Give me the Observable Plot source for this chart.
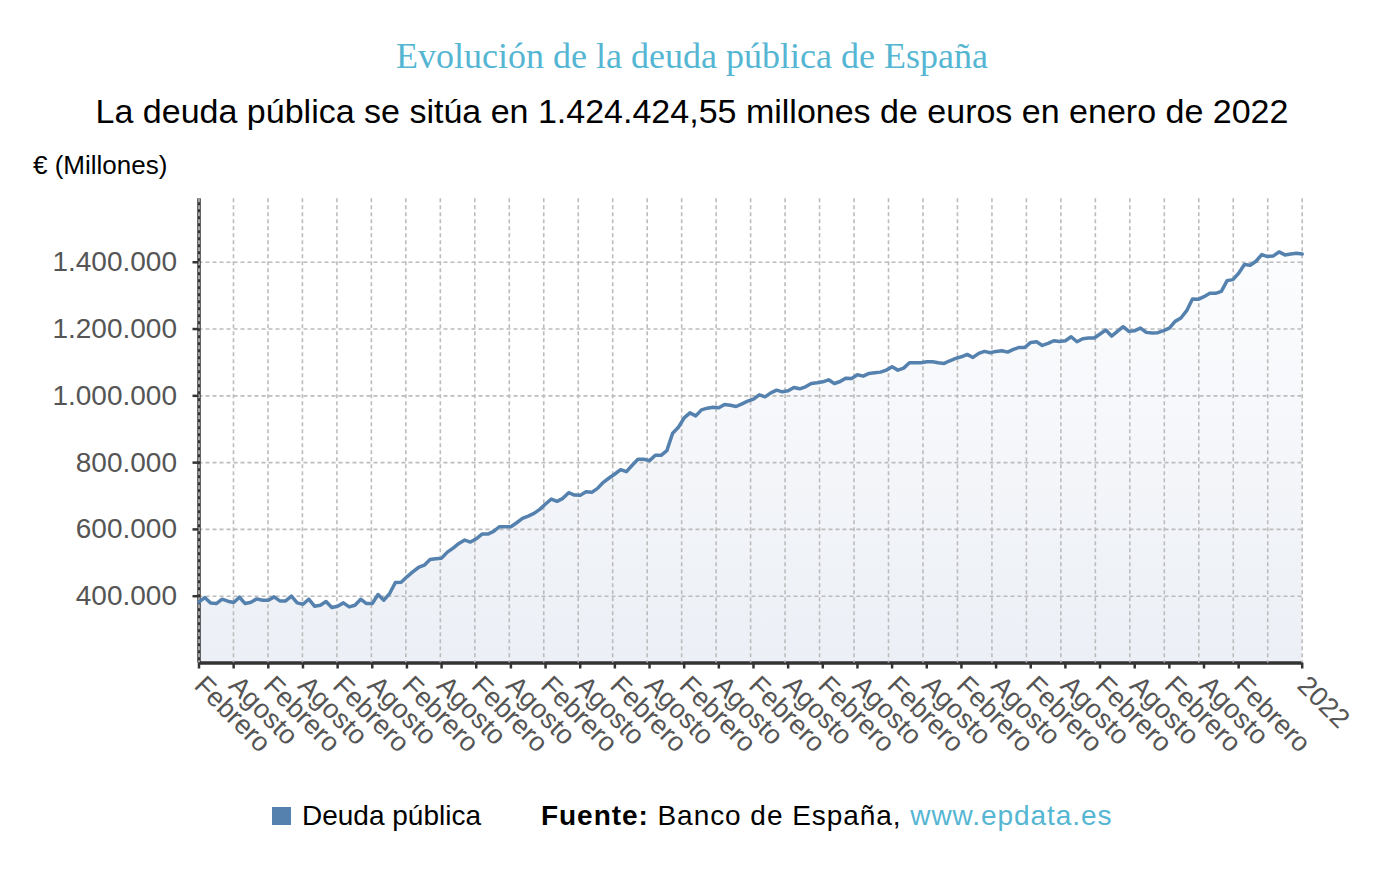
<!DOCTYPE html>
<html>
<head>
<meta charset="utf-8">
<script src="https://cdn.jsdelivr.net/npm/d3@7"></script>
<script src="https://cdn.jsdelivr.net/npm/@observablehq/plot@0.6"></script>
<style>
  body { margin: 0; background: #fff; width: 1380px; height: 890px; position: relative; overflow: hidden;
         font-family: "Liberation Sans", Arial, sans-serif; }
  .abs { position: absolute; white-space: nowrap; }
  #title { left: 0; width: 1384px; text-align: center; top: 38px; font: 36px/36px "Liberation Serif", serif; color: #55b6d3; }
  #subtitle { left: 0; width: 1384px; text-align: center; top: 94px; font-size: 34px; line-height: 34px; color: #000; }
  #ylabel { left: 33px; top: 152px; font-size: 26px; line-height: 26px; color: #000; }
  #chart { left: 0; top: 180px; }
  #legend-swatch { left: 272px; top: 807px; width: 19px; height: 18px; background: #5581ae; }
  #legend-text { left: 302px; top: 802px; font-size: 28px; line-height: 28px; color: #000; }
  #source { left: 541px; top: 802px; font-size: 28px; line-height: 28px; color: #000; letter-spacing: 0.95px; }
  #source b { font-weight: bold; }
  #source span { color: #55b6d3; }
</style>
</head>
<body>
<div id="title" class="abs">Evolución de la deuda pública de España</div>
<div id="subtitle" class="abs">La deuda pública se sitúa en 1.424.424,55 millones de euros en enero de 2022</div>
<div id="ylabel" class="abs">€ (Millones)</div>
<div id="chart" class="abs"></div>
<div id="legend-swatch" class="abs"></div>
<div id="legend-text" class="abs">Deuda pública</div>
<div id="source" class="abs"><b>Fuente:</b> Banco de España, <span>www.epdata.es</span></div>
<script>
// Monthly public debt (millions of euros), February 2006 – January 2022
const values = [
  383000, 396000, 380000, 378000, 391000, 385000, 381000, 397000, 378000, 382000, 392000, 388000,
  388000, 398000, 386000, 386000, 400000, 380000, 376000, 391000, 370000, 373000, 384000, 366000,
  370000, 380000, 368000, 373000, 391000, 378000, 378000, 405000, 388000, 408000, 441000, 442000,
  458000, 473000, 486000, 493000, 510000, 512000, 514000, 532000, 544000, 558000, 568000, 562000,
  572000, 586000, 586000, 594000, 608000, 608000, 608000, 620000, 633000, 640000, 648000, 660000,
  676000, 691000, 684000, 693000, 710000, 703000, 702000, 713000, 711000, 723000, 741000, 754000,
  766000, 779000, 773000, 792000, 810000, 810000, 806000, 822000, 822000, 836000, 888000, 906000,
  934000, 949000, 940000, 958000, 963000, 966000, 964000, 974000, 972000, 968000, 976000, 984000,
  990000, 1003000, 997000, 1009000, 1017000, 1012000, 1015000, 1025000, 1021000, 1027000, 1037000, 1039000,
  1042000, 1048000, 1037000, 1043000, 1053000, 1052000, 1063000, 1059000, 1067000, 1069000, 1071000, 1077000,
  1087000, 1077000, 1083000, 1099000, 1099000, 1099000, 1102000, 1102000, 1099000, 1097000, 1105000, 1112000,
  1117000, 1124000, 1115000, 1127000, 1133000, 1129000, 1133000, 1135000, 1131000, 1139000, 1145000, 1145000,
  1160000, 1162000, 1151000, 1157000, 1165000, 1163000, 1165000, 1177000, 1162000, 1171000, 1173000, 1173000,
  1185000, 1197000, 1179000, 1193000, 1207000, 1193000, 1195000, 1203000, 1190000, 1188000, 1189000, 1195000,
  1203000, 1223000, 1233000, 1255000, 1290000, 1289000, 1297000, 1307000, 1307000, 1313000, 1345000, 1348000,
  1367000, 1393000, 1391000, 1403000, 1423000, 1417000, 1419000, 1431000, 1422000, 1425000, 1427000, 1424425
];
// x tick positions (month index from Feb 2006) and their labels
const xTickIndex = [0, 6, 12, 18, 24, 30, 36, 42, 48, 54, 60, 66, 72, 78, 84, 90, 96, 102, 108, 114,
                    120, 126, 132, 138, 144, 150, 156, 162, 168, 174, 180, 191];
const xTickLabels = ["Febrero", "Agosto", "Febrero", "Agosto", "Febrero", "Agosto", "Febrero", "Agosto",
                     "Febrero", "Agosto", "Febrero", "Agosto", "Febrero", "Agosto", "Febrero", "Agosto",
                     "Febrero", "Agosto", "Febrero", "Agosto", "Febrero", "Agosto", "Febrero", "Agosto",
                     "Febrero", "Agosto", "Febrero", "Agosto", "Febrero", "Agosto", "Febrero", "2022"];
const yTicks = [400000, 600000, 800000, 1000000, 1200000, 1400000];
const yGrid = [400000, 600000, 800000, 1000000, 1200000, 1400000];
const yDomain = [200000, 1590000];

const data = values.map((v, i) => ({ i, v }));
const lastIndex = values.length - 1;
// vertical grid: 32 equal divisions of the time axis (as in the original)
const xGrid = d3.range(33).map(k => k * lastIndex / 32);

const esFmt = d3.formatLocale({ decimal: ",", thousands: ".", grouping: [3], currency: ["", "€"] }).format(",d");

const grid = { stroke: "#bcbcbc", strokeOpacity: 1, strokeWidth: 1.6, strokeDasharray: "4,3" };

const chart = Plot.plot({
  width: 1380,
  height: 600,
  marginLeft: 198.5,
  marginRight: 78.3,
  marginTop: 18.3,
  marginBottom: 117.5,
  x: { type: "linear", domain: [0, lastIndex] },
  y: { domain: yDomain },
  style: { fontFamily: "'Liberation Sans', Arial, sans-serif", background: "transparent", overflow: "visible" },
  marks: [
    Plot.areaY(data, { x: "i", y1: yDomain[0], y2: "v", fill: "url(#debtGrad)" }),
    Plot.ruleY(yGrid, grid),
    Plot.ruleY([yDomain[0]], { stroke: "#333", strokeWidth: 3.5 }),
    Plot.ruleX([0], { stroke: "#333", strokeWidth: 3.5 }),
    Plot.ruleX(xGrid, grid),
    Plot.line(data, { x: "i", y: "v", stroke: "#5581ae", strokeWidth: 3.5, strokeLinejoin: "round" }),
    Plot.axisY(yTicks, {
      anchor: "left", tickSize: 6, tickPadding: 16, stroke: "#333", strokeWidth: 2.5,
      tickFormat: esFmt, fontSize: 28, fill: "#555", label: null
    }),
    Plot.axisX(xTickIndex, {
      anchor: "bottom", tickSize: 6, tickPadding: 12, stroke: "#333", strokeWidth: 2.5,
      tickRotate: 45, textAnchor: "start", lineAnchor: "middle",
      tickFormat: d => xTickLabels[xTickIndex.indexOf(d)], fontSize: 27, fill: "#555", label: null
    })
  ]
});

const svg = d3.select(chart);
const defs = svg.insert("defs", ":first-child");
const g = defs.append("linearGradient").attr("id", "debtGrad").attr("x1", 0).attr("y1", 0).attr("x2", 0).attr("y2", 1);
g.append("stop").attr("offset", 0).attr("stop-color", "#fcfdfe");
g.append("stop").attr("offset", 1).attr("stop-color", "#eceff5");
document.getElementById("chart").appendChild(chart);
</script>
</body>
</html>
